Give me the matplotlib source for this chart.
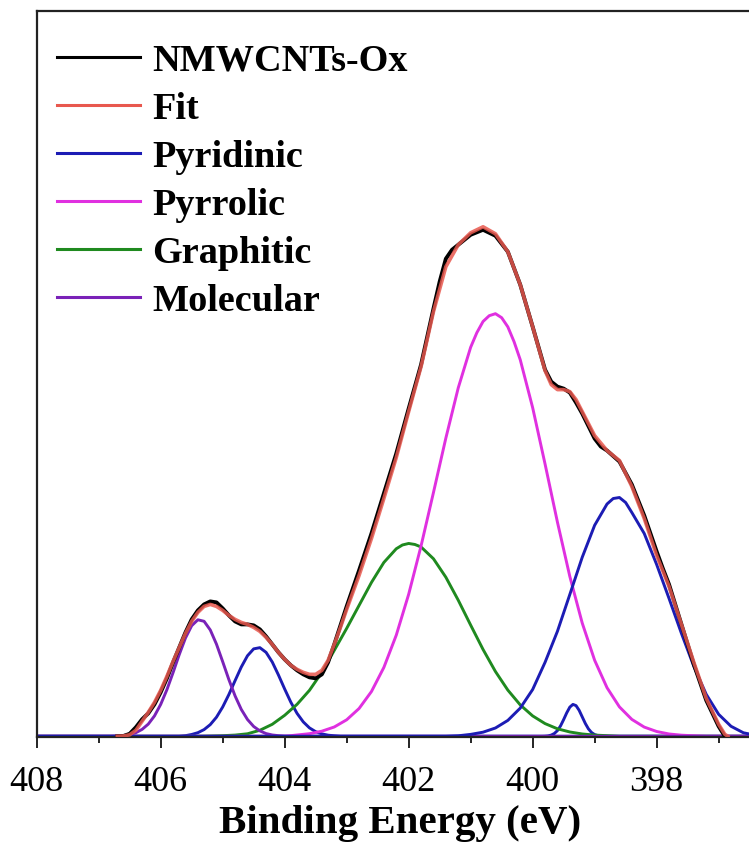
import numpy as np
import matplotlib
matplotlib.use("Agg")
import matplotlib.pyplot as plt
from matplotlib.ticker import MultipleLocator

# binding energy (eV) / intensity (a.u.)
# measured spectrum
data_e = [406.7, 406.6, 406.5, 406.4, 406.3, 406.2, 406.1, 406.0, 405.9, 405.8,
          405.7, 405.6, 405.5, 405.4, 405.3, 405.2, 405.1, 405.0, 404.9, 404.8,
          404.7, 404.6, 404.5, 404.4, 404.3, 404.2, 404.1, 404.0, 403.9, 403.8,
          403.7, 403.6, 403.5, 403.4, 403.3, 403.2, 403.1, 403.0, 402.9, 402.8,
          402.6, 402.4, 402.2, 402.0, 401.8, 401.6, 401.5, 401.4, 401.3, 401.2,
          401.0, 400.8, 400.6, 400.4, 400.2, 400.0, 399.8, 399.7, 399.6, 399.5,
          399.4, 399.3, 399.2, 399.0, 398.9, 398.8, 398.6, 398.4, 398.2, 398.0,
          397.9, 397.8, 397.6, 397.4, 397.2, 397.0, 396.9]
data_i = [0, 0.3, 2.5, 9, 17, 23, 32, 44, 58, 74,
          89, 104, 117, 126, 132, 135, 134, 128, 121, 115,
          112, 112, 111, 107, 100, 92, 84, 77, 71, 66,
          62, 59, 58, 62, 74, 92, 111, 130, 148, 166,
          203, 243, 283, 328, 372, 428, 455, 478, 487, 492,
          502, 507, 501, 485, 452, 410, 367, 355, 350, 348,
          344, 334, 323, 298, 290, 286, 275, 252, 221, 185,
          168, 152, 112, 72, 36, 10, 0]

# envelope of the fit
fit_e = [406.7, 406.6, 406.5, 406.4, 406.3, 406.2, 406.1, 406.0, 405.9, 405.8,
         405.7, 405.6, 405.5, 405.4, 405.3, 405.2, 405.1, 405.0, 404.9, 404.8,
         404.7, 404.6, 404.5, 404.4, 404.3, 404.2, 404.1, 404.0, 403.9, 403.8,
         403.7, 403.6, 403.5, 403.4, 403.3, 403.2, 403.1, 403.0, 402.9, 402.8,
         402.6, 402.4, 402.2, 402.0, 401.8, 401.6, 401.4, 401.2, 401.0, 400.8,
         400.6, 400.4, 400.2, 400.0, 399.8, 399.7, 399.6, 399.5, 399.4, 399.3,
         399.2, 399.0, 398.8, 398.6, 398.4, 398.2, 398.0, 397.8, 397.6, 397.4,
         397.2, 397.0, 396.9, 396.85]
fit_i = [0, 0.3, 1.5, 6, 15, 24, 34, 46, 60, 75,
         89, 103, 115, 124, 130, 132, 130, 126, 121, 117,
         114, 112, 109, 105, 99, 92, 84, 77, 71, 67,
         64, 62, 62, 66, 76, 92, 109, 127, 144, 161,
         198, 238, 279, 325, 370, 425, 470, 492, 504, 510,
         503, 485, 452, 410, 366, 352, 347, 347, 345, 337,
         325, 301, 286, 276, 250, 218, 181, 150, 112, 74,
         38, 12, 2, 0]

# components
mol_e = [408.0, 406.8, 406.7, 406.6, 406.5, 406.4, 406.3, 406.2, 406.1, 406.0,
         405.9, 405.8, 405.7, 405.6, 405.5, 405.4, 405.3, 405.2, 405.1, 405.0,
         404.9, 404.8, 404.7, 404.6, 404.5, 404.4, 404.3, 404.2, 404.1, 404.0,
         403.9, 396.4]
mol_i = [0, 0, 0.3, 0.8, 1.8, 3.6, 6.9, 12.2, 20.4, 31.9,
         46.6, 63.8, 81.9, 98.4, 110.7, 116.6, 115.1, 106.4, 92.2, 74.7,
         56.7, 40.4, 26.9, 16.8, 9.8, 5.4, 2.7, 1.3, 0.6, 0.2,
         0, 0]

pyd1_e = [408.0, 405.7, 405.6, 405.5, 405.4, 405.3, 405.2, 405.1, 405.0, 404.9,
          404.8, 404.7, 404.6, 404.5, 404.4, 404.3, 404.2, 404.1, 404.0, 403.9,
          403.8, 403.7, 403.6, 403.5, 403.4, 403.3, 403.2, 403.1, 396.4]
pyd1_i = [0, 0, 0.6, 1.8, 3.6, 6.7, 11.7, 19.1, 29.3, 41.8,
          55.7, 69.3, 80.6, 87.5, 88.7, 84.0, 74.3, 61.3, 47.3, 34.0,
          22.9, 14.4, 8.4, 4.6, 2.4, 1.1, 0.5, 0, 0]

pyd2_e = [408.0, 399.85, 399.8, 399.75, 399.7, 399.65, 399.6, 399.55, 399.5, 399.45,
          399.4, 399.35, 399.3, 399.25, 399.2, 399.15, 399.1, 399.05, 399.0, 398.95,
          398.9, 398.85, 396.4]
pyd2_i = [0, 0, 0.1, 0.4, 1.2, 2.8, 5.7, 10.4, 16.7, 23.5,
          29.2, 31.9, 30.7, 26.0, 19.4, 12.8, 7.4, 3.8, 1.7, 0.7,
          0.2, 0, 0]

pyd3_e = [408.0, 401.4, 401.2, 401.0, 400.8, 400.6, 400.4, 400.2, 400.0, 399.8,
          399.6, 399.4, 399.2, 399.0, 398.8, 398.7, 398.6, 398.5, 398.4, 398.2,
          398.0, 397.8, 397.6, 397.4, 397.2, 397.0, 396.8, 396.6, 396.4]
pyd3_i = [0, 0, 0.5, 1.9, 4.1, 8.3, 15.9, 28.2, 46.8, 74,
          105.1, 142, 179.2, 211.2, 232.5, 238, 239, 234, 224, 203,
          172, 138, 103, 70, 42, 22, 10, 3.5, 1]

pyr_e = [408.0, 404.0, 403.8, 403.6, 403.4, 403.2, 403.0, 402.8, 402.6, 402.4,
         402.2, 402.0, 401.8, 401.6, 401.4, 401.2, 401.0, 400.9, 400.8, 400.7,
         400.6, 400.5, 400.4, 400.3, 400.2, 400.0, 399.8, 399.6, 399.4, 399.2,
         399.0, 398.8, 398.6, 398.4, 398.2, 398.0, 397.8, 397.6, 397.4, 397.2,
         396.4]
pyr_i = [0, 0, 1.3, 2.6, 5.1, 9.3, 16.5, 27.8, 44.8, 68.9,
         101.2, 142.1, 190.5, 244.0, 298.5, 348.8, 389.4, 404, 415.2, 421,
         423, 419, 409.8, 395, 376.9, 329.0, 272.6, 214.3, 159.9, 113.3,
         76.1, 48.6, 29.4, 16.9, 9.2, 4.8, 2.3, 1.1, 0.5, 0,
         0]

gra_e = [408.0, 405.4, 405.2, 405.0, 404.8, 404.6, 404.4, 404.2, 404.0, 403.8,
         403.6, 403.4, 403.2, 403.0, 402.8, 402.6, 402.4, 402.2, 402.1, 402.0,
         401.9, 401.8, 401.6, 401.4, 401.2, 401.0, 400.8, 400.6, 400.4, 400.2,
         400.0, 399.8, 399.6, 399.4, 399.2, 399.0, 398.8, 398.6, 396.4]
gra_i = [0, 0, 0.3, 0.6, 1.2, 2.5, 6, 12, 21, 32,
         46, 64, 86, 108, 131, 154, 174, 187.7, 191.5, 193,
         192, 189.5, 177.7, 159.2, 136.2, 111.3, 86.9, 64.8, 46.2, 31.4,
         20.4, 12.7, 7.5, 4.3, 2.3, 1.2, 0.6, 0, 0]

plt.rcParams['font.family'] = ['Liberation Serif', 'DejaVu Serif']

fig = plt.figure(figsize=(7.49, 8.45), dpi=100)
ax = fig.add_axes([0.049, 0.1263, 0.951, 0.8595])

lw = 2.1
blue = '#1c1cb4'
ax.plot(pyd1_e, pyd1_i, color=blue, lw=lw, zorder=2)
ax.plot(pyd2_e, pyd2_i, color=blue, lw=lw, zorder=2)
ax.plot(gra_e, gra_i, color='#1f8a1f', lw=lw, zorder=2)
ax.plot(pyr_e, pyr_i, color='#e030e0', lw=lw, zorder=2)
ax.plot(mol_e, mol_i, color='#7a22b8', lw=lw, zorder=2)
ax.plot(pyd3_e, pyd3_i, color=blue, lw=lw, zorder=2)
ax.plot(data_e, data_i, color='black', lw=2.8, zorder=3)
ax.plot(fit_e, fit_i, color='#e8584e', lw=2.6, alpha=0.85, zorder=4)

# legend handles in the order of the reference
handles = [
    plt.Line2D([], [], color='black', lw=2.2),
    plt.Line2D([], [], color='#e8584e', lw=2.2),
    plt.Line2D([], [], color=blue, lw=2.2),
    plt.Line2D([], [], color='#e030e0', lw=2.2),
    plt.Line2D([], [], color='#1f8a1f', lw=2.2),
    plt.Line2D([], [], color='#7a22b8', lw=2.2),
]
labels = ['NMWCNTs-Ox', 'Fit', 'Pyridinic', 'Pyrrolic', 'Graphitic', 'Molecular']
ax.legend(handles, labels, loc='upper left', bbox_to_anchor=(0.028, 0.956),
          frameon=False, borderpad=0, borderaxespad=0, handlelength=2.17,
          handletextpad=0.33, labelspacing=0.34,
          prop={'family': 'Liberation Serif', 'weight': 'bold', 'size': 27.5})

ax.set_xlim(408, 396.51)
ax.set_ylim(-1, 726)
ax.xaxis.set_major_locator(MultipleLocator(2))
ax.xaxis.set_minor_locator(MultipleLocator(1))
ax.set_yticks([])
ax.tick_params(axis='x', which='major', direction='out', length=8, width=1.2,
               labelsize=26, pad=12, top=False)
ax.tick_params(axis='x', which='minor', direction='out', length=4.5, width=1.2,
               top=False)
for side in ['left', 'top', 'bottom']:
    ax.spines[side].set_linewidth(1.6)
    ax.spines[side].set_color('#222222')
ax.spines['right'].set_visible(False)

ax.set_xlabel('Binding Energy (eV)', fontsize=29.5, fontweight='bold', labelpad=6)
ax.xaxis.set_label_coords(0.51, -0.092)

fig.savefig('out.png', dpi=100)
